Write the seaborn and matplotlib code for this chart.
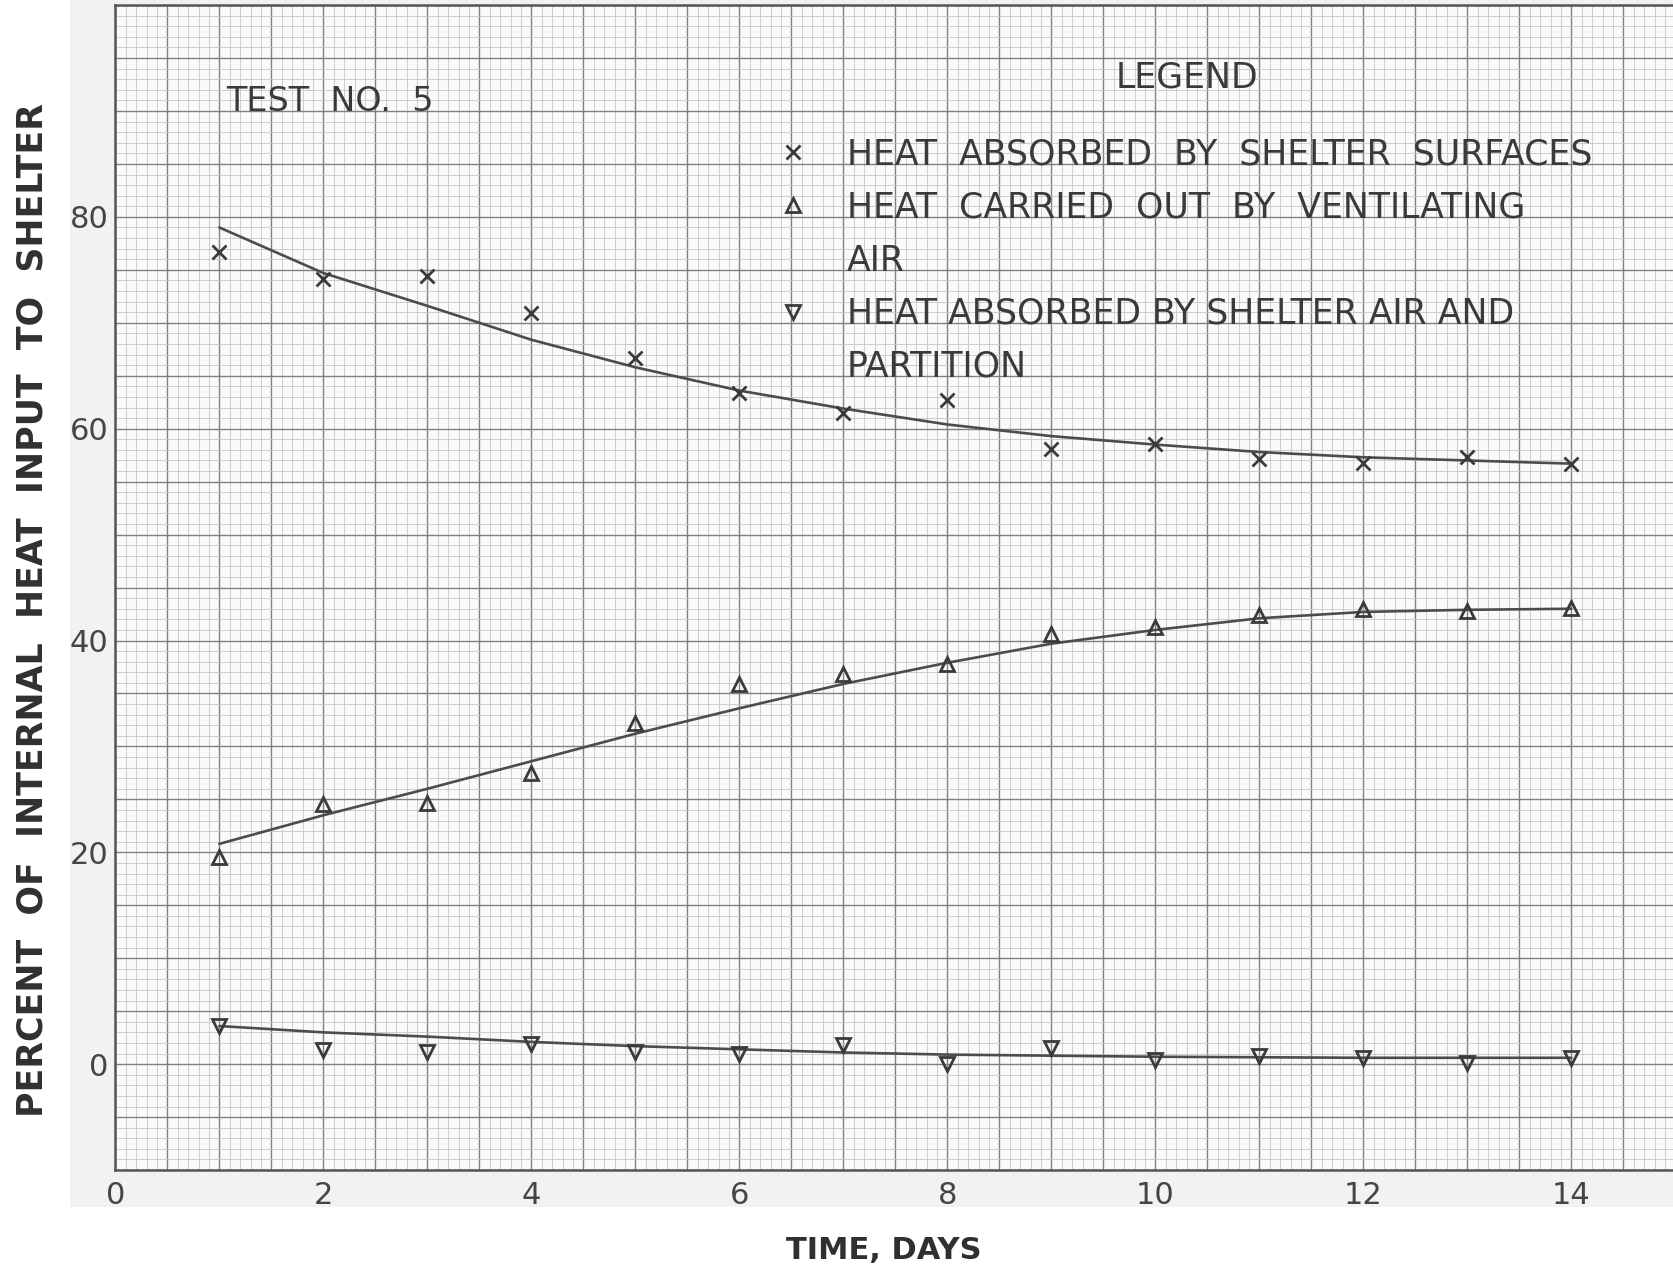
import numpy as np
import pandas as pd
import matplotlib
matplotlib.use("Agg")
import matplotlib.pyplot as plt
from matplotlib.lines import Line2D
from matplotlib.patches import Rectangle
from matplotlib.ticker import MultipleLocator, FuncFormatter
import seaborn as sns

# ---- data -----------------------------------------------------------------
days = [1, 2, 3, 4, 5, 6, 7, 8, 9, 10, 11, 12, 13, 14]

# measured points (percent of internal heat input)
surfaces_pts = [76.7, 74.1, 74.4, 70.9, 66.7, 63.4, 61.5, 62.7, 58.1, 58.6, 57.1, 56.8, 57.3, 56.7]
ventilation_pts = [19.6, 24.6, 24.7, 27.5, 32.2, 35.9, 36.8, 37.8, 40.6, 41.3, 42.4, 43.0, 42.8, 43.1]
air_partition_pts = [3.6, 1.3, 1.1, 1.9, 1.1, 1.0, 1.8, 0.0, 1.5, 0.4, 0.8, 0.6, 0.1, 0.6]

# faired curves through the points, read at each day
surfaces_fit = [79.0, 74.7, 71.6, 68.4, 65.8, 63.6, 61.9, 60.4, 59.3, 58.5, 57.8, 57.3, 57.0, 56.7]
ventilation_fit = [20.8, 23.5, 26.0, 28.6, 31.2, 33.6, 35.9, 37.9, 39.7, 41.0, 42.1, 42.7, 42.9, 43.0]
air_partition_fit = [3.6, 3.0, 2.6, 2.1, 1.7, 1.4, 1.1, 0.9, 0.8, 0.7, 0.65, 0.6, 0.6, 0.6]

series_labels = [
    ["HEAT  ABSORBED  BY  SHELTER  SURFACES"],
    ["HEAT  CARRIED  OUT  BY  VENTILATING", "AIR"],
    ["HEAT ABSORBED BY SHELTER AIR AND", "PARTITION"],
]
series_markers = ["x", "^", "v"]

x_tick_values = [0, 2, 4, 6, 8, 10, 12, 14]
y_tick_values = [0, 20, 40, 60, 80]

# ---- styling --------------------------------------------------------------
sns.set_theme(style="white")
plt.rcParams["font.family"] = ["DejaVu Sans"]

ink = "#3a3a3a"
paper = "#fafaf9"

fig = plt.figure(figsize=(16.74, 12.7), dpi=100)
fig.patch.set_facecolor("white")
# faint shadow of the sheet around the graph paper
fig.patches.append(Rectangle((0.042, 0.05), 0.958, 0.95, transform=fig.transFigure,
                             facecolor="#f2f2f2", edgecolor="none", zorder=-10))

ax = fig.add_axes([0.0689, 0.0787, 0.9319, 0.9173])
ax.set_facecolor(paper)
ax.set_xlim(0, 15)
ax.set_ylim(-10, 100)

# graph-paper grid: heavy lines every half day / 5 %, light every 0.1 day / 1 %
ax.xaxis.set_major_locator(MultipleLocator(0.5))
ax.xaxis.set_minor_locator(MultipleLocator(0.1))
ax.yaxis.set_major_locator(MultipleLocator(5))
ax.yaxis.set_minor_locator(MultipleLocator(1))
ax.grid(which="major", color="#808080", linewidth=1.0)
ax.grid(which="minor", color="#c6c6c6", linewidth=0.6)
ax.set_axisbelow(True)

ax.xaxis.set_major_formatter(FuncFormatter(
    lambda v, p: f"{int(round(v))}" if any(abs(v - t) < 1e-6 for t in x_tick_values) else ""))
ax.yaxis.set_major_formatter(FuncFormatter(
    lambda v, p: f"{int(round(v))}" if any(abs(v - t) < 1e-6 for t in y_tick_values) else ""))
ax.tick_params(axis="both", which="both", length=0, labelsize=22, labelcolor="#454545")
ax.tick_params(axis="x", pad=8)
ax.tick_params(axis="y", pad=5)

for side in ax.spines.values():
    side.set_color("#555555")
    side.set_linewidth(1.8)

# ---- curves and points ----------------------------------------------------
fits = [surfaces_fit, ventilation_fit, air_partition_fit]
points = [surfaces_pts, ventilation_pts, air_partition_pts]

handles, labels = [], []
for fit, pts, mk, lab in zip(fits, points, series_markers, series_labels):
    sns.lineplot(x=days, y=fit, ax=ax, color="#4c4c4c", linewidth=1.9,
                 estimator=None, sort=False)
    sns.lineplot(x=days, y=pts, ax=ax, color=ink, linestyle="", marker=mk,
                 markersize=10 if mk != "x" else 10, markerfacecolor="none",
                 markeredgecolor=ink, markeredgewidth=2.0,
                 estimator=None, sort=False)
    handles.append(ax.lines[-1])
    labels.append(lab[0])
    for extra in lab[1:]:
        handles.append(Line2D([], [], linestyle="", marker=""))
        labels.append(extra)

leg = ax.legend(handles, labels, loc="upper left", bbox_to_anchor=(6.35, 87.5),
                bbox_transform=ax.transData, frameon=False, fontsize=25,
                handlelength=1.0, handletextpad=1.05, labelspacing=0.55,
                borderpad=0, borderaxespad=0, labelcolor=ink)

ax.text(10.3, 93.2, "LEGEND", ha="center", va="center", fontsize=25, color=ink)
ax.text(1.07, 90.9, "TEST  NO.  5", ha="left", va="center", fontsize=24, color=ink)

# ---- axis titles ----------------------------------------------------------
ax.set_xlabel("TIME, DAYS", fontsize=22, fontweight="bold", color="#303030", va="center")
ax.xaxis.set_label_coords(0.4928, -0.0688)
ax.set_ylabel("PERCENT  OF  INTERNAL  HEAT  INPUT  TO  SHELTER", fontsize=25,
              fontweight="bold", color="#303030", va="center")
ax.yaxis.set_label_coords(-0.0534, 0.4807)

fig.savefig("out.png", dpi=100, facecolor=fig.get_facecolor())
